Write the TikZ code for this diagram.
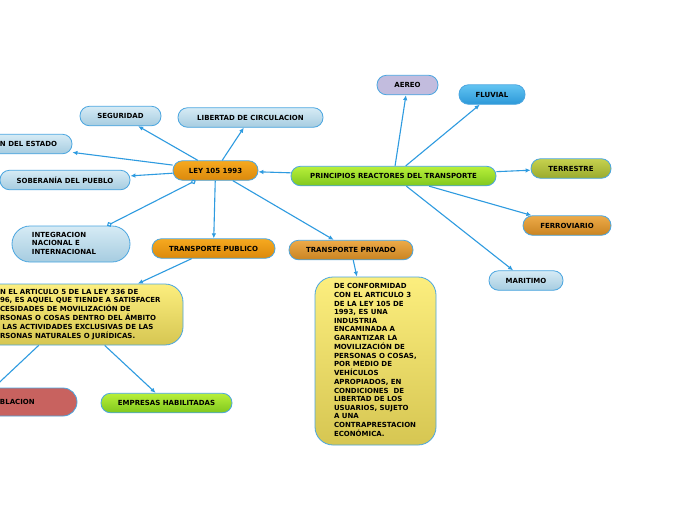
\documentclass[tikz,border=0pt]{standalone}
\usepackage{fontspec}
\setmainfont{DejaVu Sans}
\usetikzlibrary{arrows.meta}
\definecolor{bcol}{HTML}{4BA6E0}
\definecolor{ccol}{HTML}{2E9BE0}
\definecolor{lbt}{HTML}{D6EBF5}
\definecolor{lbb}{HTML}{A6CCE0}
\definecolor{ort}{HTML}{F6A91F}
\definecolor{orb}{HTML}{DB890C}
\definecolor{brt}{HTML}{EDAA48}
\definecolor{brb}{HTML}{C98322}
\definecolor{grt}{HTML}{B8F03A}
\definecolor{grb}{HTML}{80C71E}
\definecolor{olt}{HTML}{C6D24E}
\definecolor{olb}{HTML}{9AAA2E}
\definecolor{yet}{HTML}{FCEE7E}
\definecolor{yeb}{HTML}{D6C652}
\definecolor{lav}{HTML}{C2BCDE}
\definecolor{flt}{HTML}{62C4F2}
\definecolor{flb}{HTML}{2C98D8}
\definecolor{pobc}{HTML}{C8625F}
\newcommand{\lbx}[3]{\makebox[#1pt][l]{\hspace*{#2pt}#3}}
\newcommand{\lines}[1]{\begin{tabular}{@{}l@{}}#1\end{tabular}}
\begin{document}
\begin{tikzpicture}[x=1pt,y=-1pt,
  box/.style={draw=bcol, line width=0.8pt, inner sep=0pt, text=black,
    font=\fontsize{7}{8.6}\selectfont\bfseries},
  pill/.style={box, rounded corners=9.5pt, minimum height=19.5pt},
  big/.style={box, rounded corners=18pt},
  lblue/.style={top color=lbt, bottom color=lbb},
  orng/.style={top color=ort, bottom color=orb},
  brwn/.style={top color=brt, bottom color=brb},
  grn/.style={top color=grt, bottom color=grb},
  olv/.style={top color=olt, bottom color=olb},
  yel/.style={top color=yet, bottom color=yeb},
  conn/.style={draw=ccol, line width=1.1pt, -{Latex[length=5pt,width=4.5pt]}},
  circ/.style={draw=ccol, line width=1.1pt, {Circle[open,length=5pt,width=5pt,fill=white]}-{Circle[open,length=5pt,width=5pt,fill=white]}}
]
\useasboundingbox (0,0) rectangle (696,520);
\fill[white] (0,0) rectangle (696,520);

\node[pill,orng,minimum width=85pt] (ley) at (215.5,170.5) {LEY 105 1993};
\node[pill,grn,minimum width=205pt] (pri) at (393.5,176) {PRINCIPIOS REACTORES DEL TRANSPORTE};
\node[pill,lblue,minimum width=81pt] (seg) at (120.5,116) {SEGURIDAD};
\node[pill,lblue,minimum width=145pt] (lib) at (250.5,117.5) {LIBERTAD DE CIRCULACION};
\node[pill,lblue] (est) at (6,144) {\lbx{132}{60}{N DEL ESTADO}};
\node[pill,lblue,minimum width=130pt] (sob) at (65,180) {SOBERANÍA DEL PUEBLO};
\node[big,lblue,minimum height=36pt] (int) at (71,244) {\lbx{118}{20}{\lines{INTEGRACION\\NACIONAL E\\INTERNACIONAL}}};
\node[pill,orng,minimum width=123pt] (tpu) at (213.5,248.5) {TRANSPORTE PUBLICO};
\node[pill,brwn,minimum width=124pt] (tpr) at (351,250) {TRANSPORTE PRIVADO};
\node[big,yel,minimum height=61pt] (yl) at (71.5,314.5) {\lbx{223}{40}{\lines{N EL ARTICULO 5 DE LA LEY 336 DE\\96, ES AQUEL QUE TIENDE A SATISFACER\\CESIDADES DE MOVILIZACIÓN DE\\RSONAS O COSAS DENTRO DEL ÁMBITO\\\ LAS ACTIVIDADES EXCLUSIVAS DE LAS\\RSONAS NATURALES O JURÍDICAS.}}};
\node[big,yel,minimum height=168pt] (yr) at (375.5,361) {\lbx{121}{19}{\lines{DE CONFORMIDAD\\CON EL ARTICULO 3\\DE LA LEY 105 DE\\1993, ES UNA\\INDUSTRIA\\ENCAMINADA A\\GARANTIZAR LA\\MOVILIZACIÓN DE\\PERSONAS O COSAS,\\POR MEDIO DE\\VEHÍCULOS\\APROPIADOS, EN\\CONDICIONES\ \ DE\\LIBERTAD DE LOS\\USUARIOS, SUJETO\\A UNA\\CONTRAPRESTACION\\ECONÓMICA.}}};
\node[pill,grn,minimum width=131pt] (emp) at (166.5,403) {EMPRESAS HABILITADAS};
\node[big,fill=pobc,rounded corners=14pt,minimum height=28pt] (pob) at (-21.5,402) {\lbx{197}{120}{BLACION}};
\node[pill,fill=lav,minimum width=61pt] (aer) at (407.5,85) {AEREO};
\node[pill,top color=flt,bottom color=flb,minimum width=66pt] (flu) at (492,94.5) {FLUVIAL};
\node[pill,olv,minimum width=80pt] (ter) at (571,168.5) {TERRESTRE};
\node[pill,brwn,minimum width=88pt] (fer) at (567,225.5) {FERROVIARIO};
\node[pill,lblue,minimum width=74pt] (mar) at (526,280.5) {MARITIMO};

\draw[conn] (ley) -- (seg);
\draw[conn] (ley) -- (lib);
\draw[conn] (ley) -- (est);
\draw[conn] (ley) -- (sob);
\draw[circ] (ley) -- (int);
\draw[conn] (ley) -- (tpu);
\draw[conn] (ley) -- (tpr);
\draw[conn] (pri) -- (ley);
\draw[conn] (pri) -- (aer);
\draw[conn] (pri) -- (flu);
\draw[conn] (pri) -- (ter);
\draw[conn] (pri) -- (fer);
\draw[conn] (pri) -- (mar);
\draw[conn] (tpu) -- (yl);
\draw[conn] (tpr) -- (yr);
\draw[conn] (yl) -- (pob);
\draw[conn] (yl) -- (emp);
\end{tikzpicture}
\end{document}
